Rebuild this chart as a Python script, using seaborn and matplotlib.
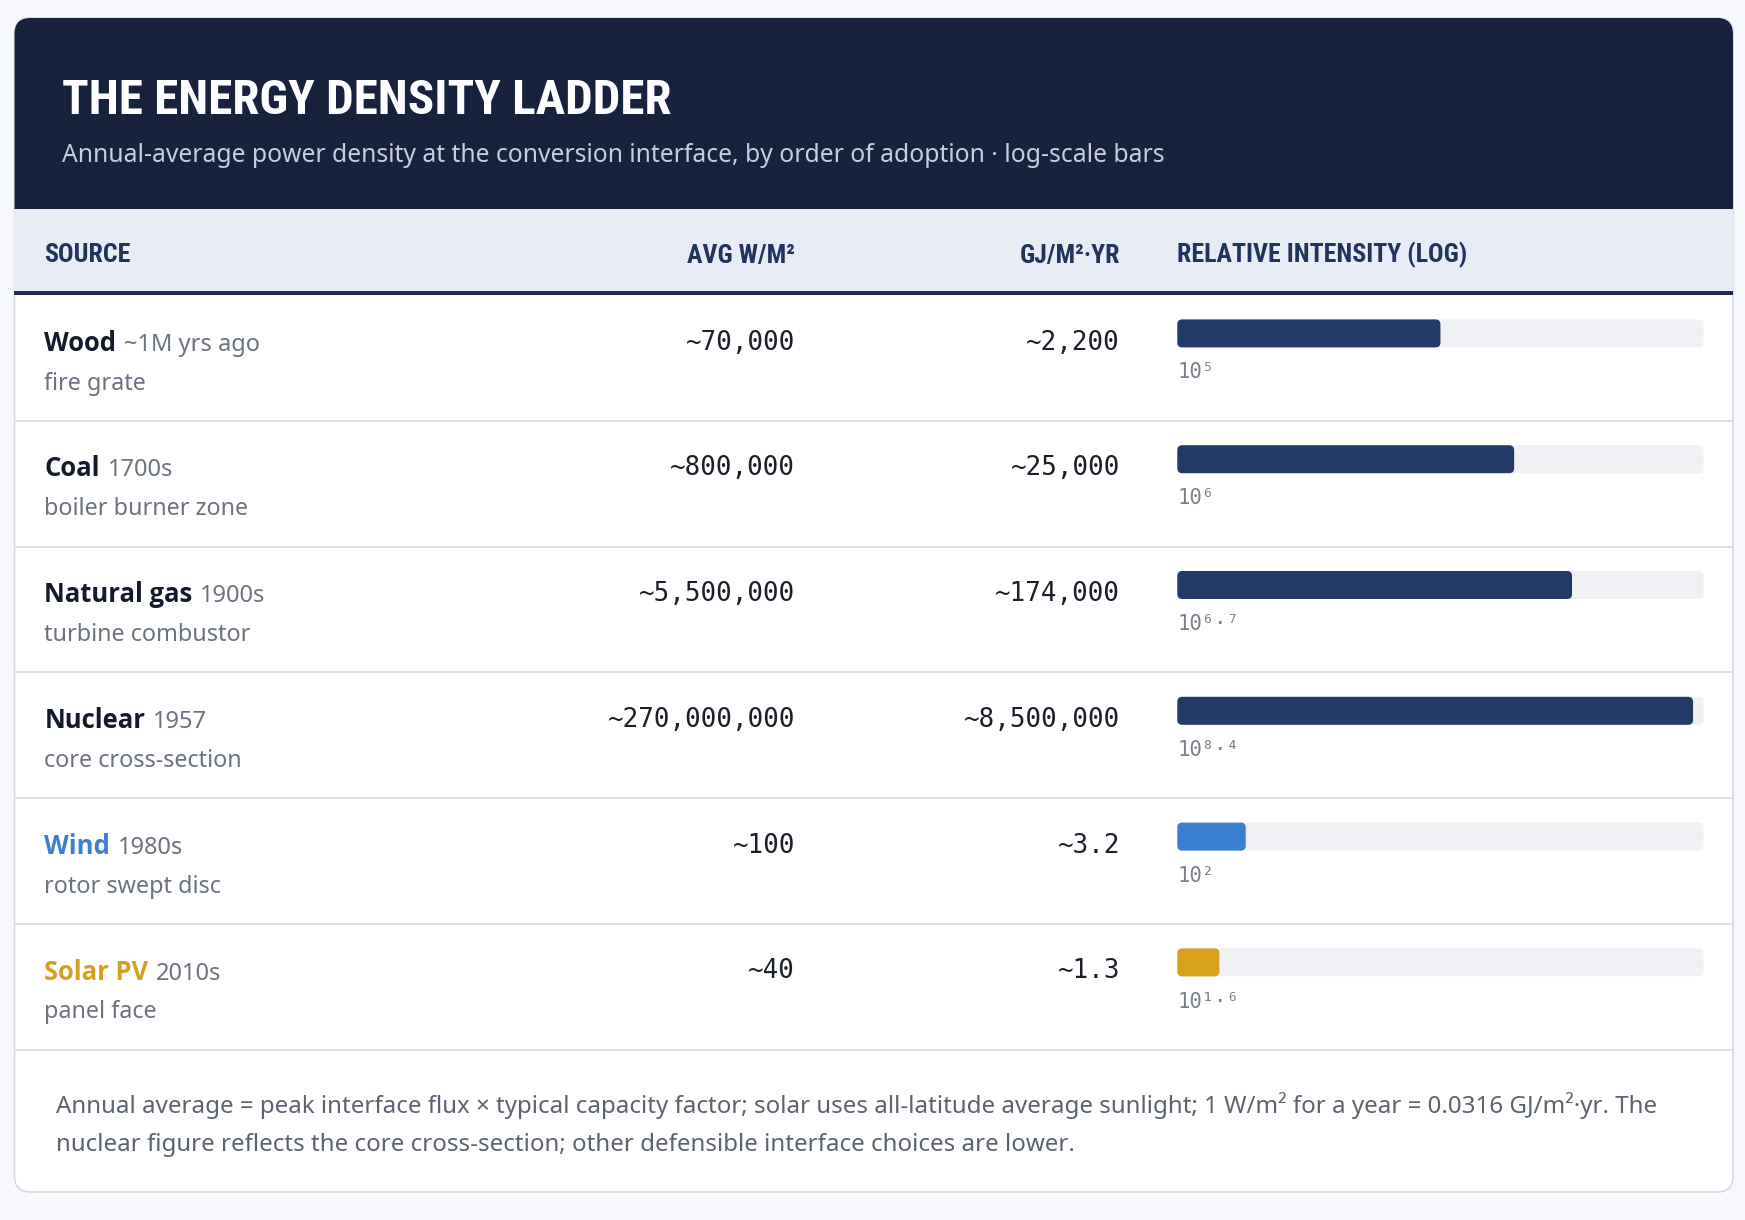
import matplotlib
matplotlib.use("Agg")
import matplotlib.pyplot as plt
from matplotlib import font_manager as fm
from matplotlib.patches import FancyBboxPatch, Rectangle
import seaborn as sns
import pandas as pd

# ---------------- data ----------------
sources = ["Wood", "Coal", "Natural gas", "Nuclear", "Wind", "Solar PV"]
eras = ["~1M yrs ago", "1700s", "1900s", "1957", "1980s", "2010s"]
interfaces = ["fire grate", "boiler burner zone", "turbine combustor",
              "core cross-section", "rotor swept disc", "panel face"]
avg_wm2 = ["~70,000", "~800,000", "~5,500,000", "~270,000,000", "~100", "~40"]
gj_m2_yr = ["~2,200", "~25,000", "~174,000", "~8,500,000", "~3.2", "~1.3"]
exp_labels = ["10\u2075", "10\u2076", "10\u2076\u00b7\u2077", "10\u2078\u00b7\u2074",
              "10\u00b2", "10\u00b9\u00b7\u2076"]
bar_pct = [50, 64, 75, 98, 13, 8]          # relative intensity bar fill (% of track)
track_pct = [100, 100, 100, 100, 100, 100]
name_colors = ["#141a2c", "#141a2c", "#141a2c", "#141a2c", "#3a7fd1", "#d4a020"]
bar_colors = ["#233a68", "#233a68", "#233a68", "#233a68", "#3a7fd1", "#d6a21c"]

title = "THE ENERGY DENSITY LADDER"
subtitle = ("Annual-average power density at the conversion interface, "
            "by order of adoption \u00b7 log-scale bars")
col_headers = ["SOURCE", "AVG W/M\u00b2", "GJ/M\u00b2\u00b7YR", "RELATIVE INTENSITY (LOG)"]
footer_lines = [
    "Annual average = peak interface flux \u00d7 typical capacity factor; solar uses "
    "all-latitude average sunlight; 1 W/m\u00b2 for a year = 0.0316 GJ/m\u00b2\u00b7yr. The",
    "nuclear figure reflects the core cross-section; other defensible interface choices are lower.",
]

# ---------------- fonts ----------------
FL = fm.fontManager.ttflist


def wnum(w):
    if isinstance(w, (int, float)):
        return int(w)
    return {"bold": 700, "semibold": 600, "demibold": 600, "heavy": 800, "black": 900,
            "normal": 400, "regular": 400, "medium": 500, "light": 300}.get(str(w).lower(), 400)


def pick(names, wmin, wmax, need_stretch=None):
    for nm in names:
        c = [f for f in FL if f.name == nm and wmin <= wnum(f.weight) <= wmax
             and f.style == "normal"
             and (need_stretch is None or need_stretch in str(f.stretch))]
        if c:
            c.sort(key=lambda f: abs(wnum(f.weight) - (wmin + wmax) / 2))
            return fm.FontProperties(fname=c[0].fname)
    return None


COND = (pick(["Roboto Condensed", "Liberation Sans Narrow"], 600, 800)
        or pick(["DejaVu Sans"], 600, 800, "ondensed")
        or fm.FontProperties(family="DejaVu Sans", weight="bold"))
SANS_B = (pick(["Noto Sans", "Open Sans", "Inter", "Lato", "Roboto"], 600, 700)
          or fm.FontProperties(family="DejaVu Sans", weight="bold"))
SANS = "Noto Sans"
MONO = "DejaVu Sans Mono"

W, H = 1745, 1220
fig = plt.figure(figsize=(W / 100, H / 100), dpi=100)
fig.patch.set_facecolor("#f6f8fb")
ax = fig.add_axes([0, 0, 1, 1])
ax.set_xlim(0, W)
ax.set_ylim(H, 0)
ax.axis("off")

# ---------------- layout ----------------
card_l, card_r, card_t, card_b = 14.5, 1733, 18, 1192
head_b = 209
band_b = 291
row0 = 295
pitch = 125.8
n = len(sources)

ax.add_patch(FancyBboxPatch((card_l, card_t), card_r - card_l, card_b - card_t,
                            boxstyle="round,pad=0,rounding_size=16",
                            facecolor="white", edgecolor="#d6dae2", lw=1.2, zorder=1))
ax.add_patch(FancyBboxPatch((card_l, card_t), card_r - card_l, 230,
                            boxstyle="round,pad=0,rounding_size=16",
                            facecolor="#19223d", edgecolor="none", zorder=2))
ax.add_patch(Rectangle((card_l, head_b), card_r - card_l, band_b - head_b,
                       facecolor="#e8ecf5", edgecolor="none", zorder=3))
ax.add_patch(Rectangle((card_l, band_b), card_r - card_l, row0 - band_b,
                       facecolor="#1f2d52", edgecolor="none", zorder=4))
for i in range(1, n + 1):
    y = row0 + pitch * i
    ax.plot([card_l + 0.6, card_r - 0.6], [y, y], color="#dcdfe5", lw=1.4, zorder=4,
            solid_capstyle="butt")

fig.canvas.draw()
R = fig.canvas.get_renderer()


def width_of(t):
    return t.get_window_extent(R).width


def fit(t, target):
    for _ in range(3):
        t.set_fontsize(t.get_fontsize() * target / width_of(t))
    return t.get_fontsize()


def right_of(t):
    bb = t.get_window_extent(R)
    return ax.transData.inverted().transform((bb.x1, bb.y0))[0]


# title + subtitle
t = ax.text(62, 113.5, title, color="white", fontproperties=COND, fontsize=40,
            va="baseline", ha="left", zorder=5)
fit(t, 612)
t = ax.text(62, 162, subtitle, color="#c5cde0", family=SANS, fontsize=16,
            va="baseline", ha="left", zorder=5)
fit(t, 1103)

# column headers
hdr_y = 262.5
th = ax.text(1177.5, hdr_y, col_headers[3], color="#22345e", fontproperties=COND,
             fontsize=18, va="baseline", ha="left", zorder=5)
hfs = fit(th, 289)
for txt, x, ha in [(col_headers[0], 44.5, "left"), (col_headers[1], 795, "right"),
                   (col_headers[2], 1120, "right")]:
    ax.text(x, hdr_y, txt, color="#22345e", fontproperties=COND, fontsize=hfs,
            va="baseline", ha=ha, zorder=5)

# reference sizes
probe = ax.text(0, -100, "Natural gas", fontproperties=SANS_B, fontsize=18)
name_fs = fit(probe, 148)
probe.remove()
probe = ax.text(0, -100, "~1M yrs ago", family=SANS, fontsize=16)
era_fs = fit(probe, 136)
probe.remove()
probe = ax.text(0, -100, "boiler burner zone", family=SANS, fontsize=16)
sub_fs = fit(probe, 204)
probe.remove()
probe = ax.text(0, -100, "~270,000,000", family=MONO, fontsize=18)
val_fs = fit(probe, 186)
probe.remove()
probe = ax.text(0, -100, exp_labels[3], family=MONO, fontsize=14)
exp_fs = fit(probe, 62)
probe.remove()

for i in range(n):
    top = row0 + pitch * i
    tn = ax.text(44.5, top + 55.6, sources[i], color=name_colors[i], fontproperties=SANS_B,
                 fontsize=name_fs, va="baseline", ha="left", zorder=5)
    xr = right_of(tn)
    ax.text(xr + 7.5, top + 55.6, eras[i], color="#6b7280", family=SANS,
            fontsize=era_fs, va="baseline", ha="left", zorder=5)
    ax.text(44.5, top + 94.5, interfaces[i], color="#6b7280", family=SANS,
            fontsize=sub_fs, va="baseline", ha="left", zorder=5)
    ax.text(795, top + 54.5, avg_wm2[i], color="#1b1f2a", family=MONO,
            fontsize=val_fs, va="baseline", ha="right", zorder=5)
    ax.text(1120, top + 54.5, gj_m2_yr[i], color="#1b1f2a", family=MONO,
            fontsize=val_fs, va="baseline", ha="right", zorder=5)
    ax.text(1177.5, top + 83.5, exp_labels[i], color="#7a808c", family=MONO,
            fontsize=exp_fs, va="baseline", ha="left", zorder=5)

# footer
tf = ax.text(55.7, 1113, footer_lines[0], color="#5c6370", family=SANS, fontsize=16,
             va="baseline", ha="left", zorder=5)
ffs = fit(tf, 1600)
ax.text(55.7, 1151, footer_lines[1], color="#5c6370", family=SANS, fontsize=ffs,
        va="baseline", ha="left", zorder=5)

# ---------------- bars (seaborn) ----------------
bar_l, bar_r = 1177.3, 1703.6
c0 = row0 + 38.4
ax_top = c0 - 0.5 * pitch
ax_bot = c0 + (n - 0.5) * pitch
bax = fig.add_axes([bar_l / W, 1 - ax_bot / H, (bar_r - bar_l) / W, (ax_bot - ax_top) / H])
bax.patch.set_alpha(0)

df = pd.DataFrame({"source": sources, "pct": bar_pct, "track": track_pct})
bh = 28 / pitch
sns.barplot(data=df, x="track", y="source", orient="h", color="#eff1f5",
            width=bh, saturation=1, ax=bax)
sns.barplot(data=df, x="pct", y="source", hue="source", palette=bar_colors,
            orient="h", width=bh, saturation=1, dodge=False, legend=False, ax=bax)
bax.set_xlim(0, 100)
bax.set_ylim(n - 0.5, -0.5)
bax.axis("off")

px_x = (bar_r - bar_l) / 100.0      # px per x unit
px_y = pitch                        # px per y unit
rad_px = 5
rects = list(bax.patches)
for k, p in enumerate(rects):
    x, y, w, h = p.get_x(), p.get_y(), p.get_width(), p.get_height()
    fc = p.get_facecolor()
    p.remove()
    if w <= 0:
        continue
    bax.add_patch(FancyBboxPatch((x, y), w, h,
                                 boxstyle="round,pad=0,rounding_size=%f" % (rad_px / px_x),
                                 mutation_aspect=(1 / px_y) / (1 / px_x),
                                 facecolor=fc, edgecolor="none", zorder=2 + k // n))

fig.savefig("out.png", dpi=100, facecolor=fig.get_facecolor())
